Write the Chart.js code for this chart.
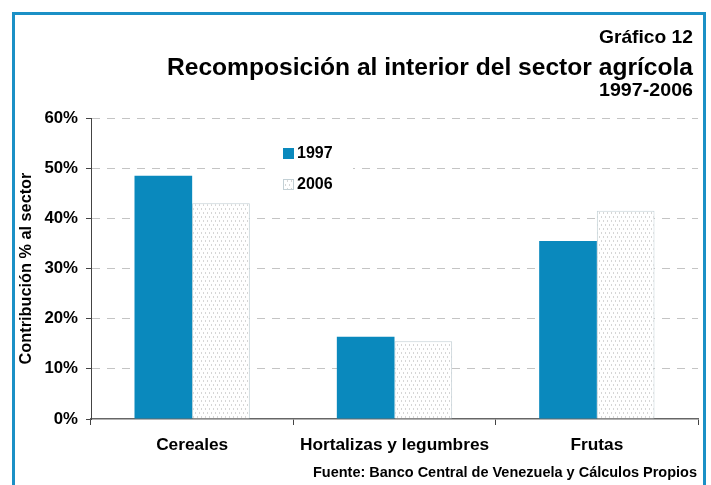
<!DOCTYPE html>
<html><head><meta charset="utf-8">
<script src="https://cdn.jsdelivr.net/npm/chart.js@4"></script>
<style>html,body{margin:0;padding:0;background:#fff;overflow:hidden}#wrap{width:711px;height:485px;position:relative}</style>
</head><body><div id="wrap"><canvas id="c" width="711" height="485"></canvas></div>
<script>
const categories = ['Cereales', 'Hortalizas y legumbres', 'Frutas'];
const series1997 = [48.5, 16.4, 35.5];
const series2006 = [43.0, 15.5, 41.5];
const seriesLabels = ['1997', '2006'];
const yTickValues = [0, 10, 20, 30, 40, 50, 60];
const titleTop = 'Gráfico 12';
const titleMain = 'Recomposición al interior del sector agrícola';
const titleSub = '1997-2006';
const yAxisTitle = 'Contribución % al sector';
const sourceNote = 'Fuente: Banco Central de Venezuela y Cálculos Propios';

const FAMILY = "'Liberation Sans', Arial, Helvetica, sans-serif";
const BLUE = '#0a89bd';
const FRAME = '#1b90c6';

function makePattern() {
  const p = document.createElement('canvas');
  p.width = 4; p.height = 8;
  const g = p.getContext('2d');
  g.fillStyle = '#ffffff'; g.fillRect(0, 0, 4, 8);
  g.fillStyle = '#d6d6d6';
  g.fillRect(1, 0, 1, 2);
  g.fillRect(3, 4, 1, 2);
  return document.getElementById('c').getContext('2d').createPattern(p, 'repeat');
}
const dotPattern = makePattern();

function fitText(ctx, text, size, rightX, baseY, targetW) {
  ctx.save();
  ctx.font = 'bold ' + size + 'px ' + FAMILY;
  const w = ctx.measureText(text).width;
  ctx.translate(rightX, baseY);
  ctx.scale(targetW / w, 1);
  ctx.textAlign = 'right';
  ctx.textBaseline = 'alphabetic';
  ctx.fillStyle = '#000';
  ctx.fillText(text, 0, 0);
  ctx.restore();
}

const decor = {
  id: 'decor',
  afterDraw(chart) {
    const ctx = chart.ctx;
    ctx.save();
    ctx.fillStyle = FRAME;
    ctx.fillRect(12, 12, 694, 3);
    ctx.fillRect(12, 12, 3, 480);
    ctx.fillRect(703, 12, 3, 480);
    ctx.restore();
    fitText(ctx, titleTop, 19, 693, 43, 94);
    fitText(ctx, titleMain, 23, 693, 75, 526);
    fitText(ctx, titleSub, 17.5, 693, 96, 94);
    fitText(ctx, sourceNote, 14, 697, 477, 384);
    ctx.save();
    ctx.fillStyle = '#fff';
    ctx.fillRect(267, 140, 86, 57);
    const ds = chart.data.datasets;
    const rows = [153.5, 184.5];
    ds.forEach((d, i) => {
      const y = rows[i];
      ctx.fillStyle = d.backgroundColor;
      ctx.fillRect(283, y - 5.5, 11, 11);
      if (d.borderWidth) {
        ctx.strokeStyle = d.borderColor; ctx.lineWidth = 1;
        ctx.strokeRect(283.5, y - 5, 10, 10);
      }
      ctx.fillStyle = '#000';
      ctx.font = 'bold 16px ' + FAMILY;
      ctx.textAlign = 'left';
      ctx.textBaseline = 'middle';
      ctx.fillText(d.label, 297, y + 0.5);
    });
    ctx.restore();
  }
};

new Chart(document.getElementById('c'), {
  type: 'bar',
  data: {
    labels: categories,
    datasets: [
      { label: seriesLabels[0], data: series1997, backgroundColor: BLUE, borderWidth: 0,
        categoryPercentage: 0.57, barPercentage: 1.0 },
      { label: seriesLabels[1], data: series2006, backgroundColor: dotPattern, borderColor: '#c3d0d5', borderWidth: 1,
        categoryPercentage: 0.57, barPercentage: 1.0 }
    ]
  },
  options: {
    responsive: false,
    animation: false,
    devicePixelRatio: 1,
    layout: { padding: { top: 118, right: 13, left: 0, bottom: 0 } },
    plugins: { legend: { display: false }, tooltip: { enabled: false }, title: { display: false } },
    scales: {
      x: {
        grid: { display: true, drawOnChartArea: false, offset: true, tickLength: 6, tickColor: '#444', lineWidth: 1 },
        border: { display: true, color: '#666', width: 1.5 },
        ticks: { color: '#000', font: { family: FAMILY, size: 17.3, weight: 'bold' }, padding: 10, maxRotation: 0 },
        afterFit: s => { s.height = 66; }
      },
      y: {
        min: 0, max: 60,
        afterBuildTicks: s => { s.ticks = yTickValues.map(v => ({ value: v })); },
        grid: {
          color: c => (c.tick && c.tick.value === 0) ? 'rgba(0,0,0,0)' : '#c4c4c4',
          tickColor: '#444', tickLength: 5, lineWidth: 1
        },
        border: { display: true, color: '#444', width: 1, dash: [8, 7] },
        ticks: { color: '#000', font: { family: FAMILY, size: 16.8, weight: 'bold' }, padding: 8,
          callback: v => v + '%' },
        title: { display: true, text: yAxisTitle, color: '#000', font: { family: FAMILY, size: 16.3, weight: 'bold' },
          padding: { top: 17, bottom: 0 } },
        afterFit: s => { s.width = 91; }
      }
    }
  },
  plugins: [decor]
});
</script></body></html>
